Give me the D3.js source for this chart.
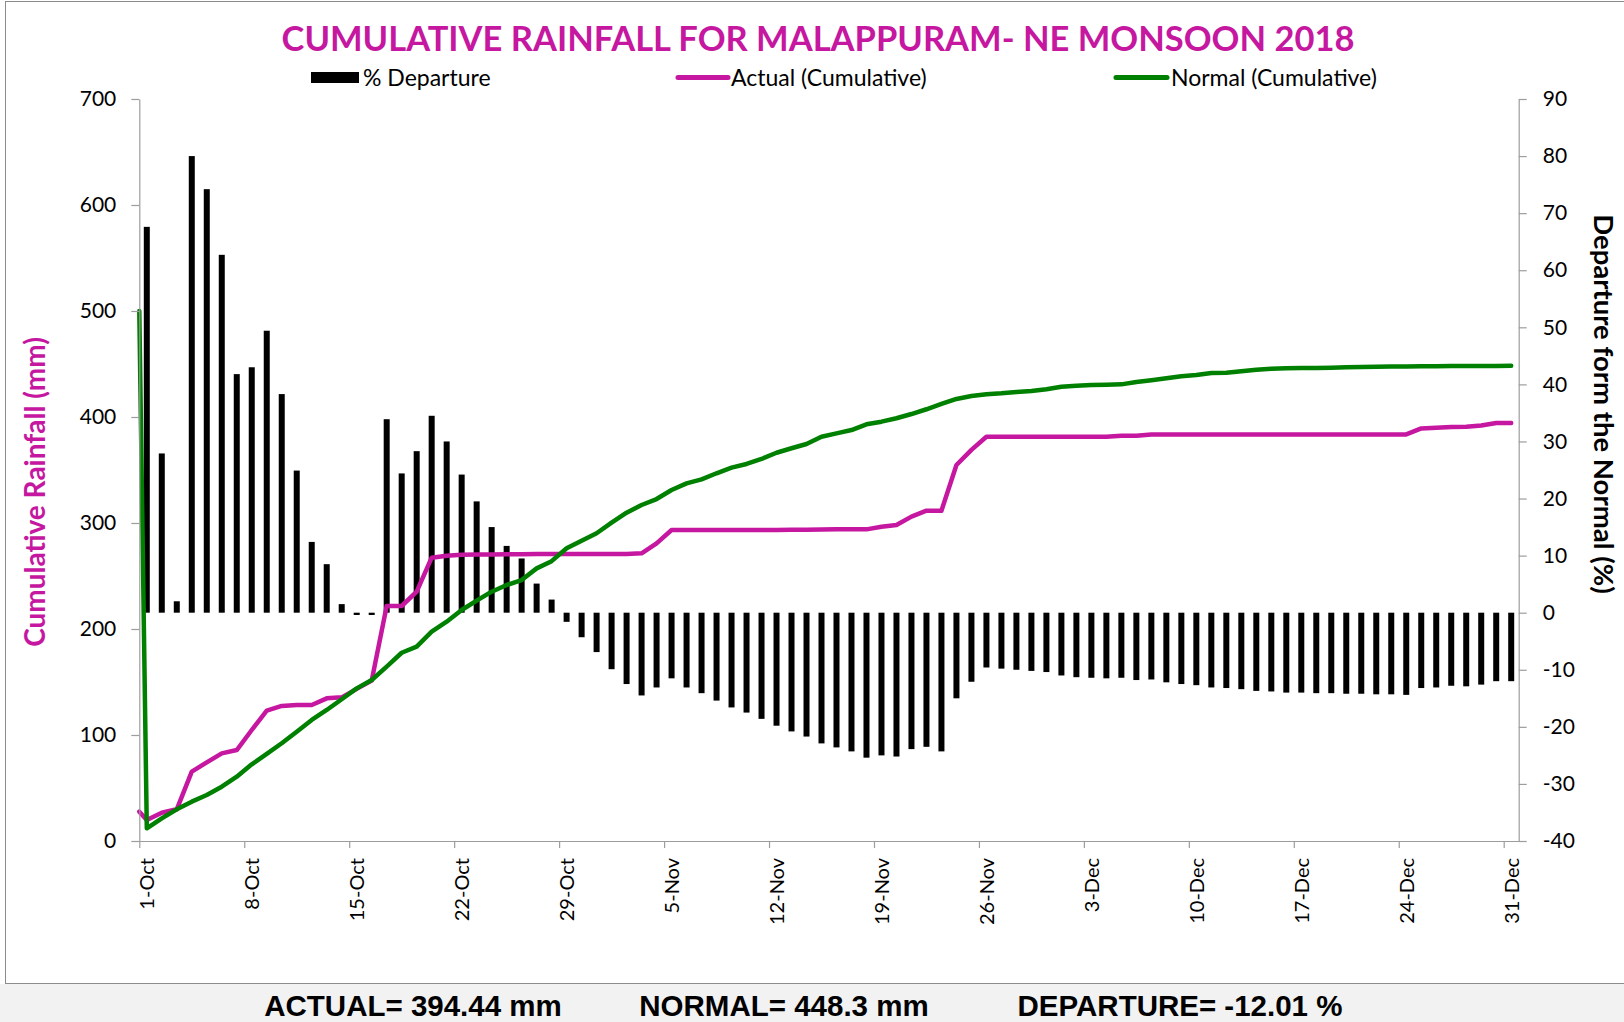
<!DOCTYPE html>
<meta charset="utf-8">
<script src="https://d3js.org/d3.v7.min.js"></script>
<style>
  body { margin: 0; background: #fff; }
  text { font-family: Lato, "Open Sans", sans-serif; }
</style>
<div id="chart"></div>
<script>

// one value per day, 1-Oct ... 31-Dec 2018 (92 days)
var departure = [67.6, 27.9, 2.0, 80.0, 74.2, 62.7, 41.8, 43.0, 49.4, 38.3,
  24.9, 12.4, 8.5, 1.5, -0.4, -0.4, 33.9, 24.4, 28.3, 34.5,
  30.0, 24.2, 19.5, 15.0, 11.7, 9.5, 5.1, 2.3, -1.6, -4.3,
  -6.9, -9.9, -12.5, -14.5, -13.1, -11.5, -13.1, -14.1, -15.4, -16.6,
  -17.5, -18.6, -19.8, -20.8, -21.7, -22.9, -23.6, -24.3, -25.4, -25.0,
  -25.2, -23.9, -23.5, -24.3, -15.0, -12.1, -9.6, -9.8, -10.0, -10.2,
  -10.4, -11.0, -11.3, -11.4, -11.5, -11.4, -11.8, -11.7, -12.2, -12.5,
  -12.7, -13.1, -13.2, -13.4, -13.7, -13.8, -14.0, -14.0, -14.1, -14.1,
  -14.2, -14.2, -14.3, -14.3, -14.4, -13.2, -13.1, -12.8, -12.9, -12.6,
  -12.0, -12.0]

var actual = [19.8, 26.7, 29.9, 65.4, 74.2, 82.7, 85.8, 104.7, 123.0, 127.4,
  128.3, 128.3, 134.6, 135.5, 143.5, 151.3, 221.7, 221.7, 235.2, 267.3,
  269.2, 270.0, 270.2, 270.4, 270.5, 270.6, 270.7, 270.7, 270.7, 270.7,
  270.7, 270.7, 270.8, 271.4, 280.8, 293.4, 293.4, 293.4, 293.4, 293.4,
  293.4, 293.4, 293.5, 293.6, 293.7, 293.8, 294.0, 294.0, 294.0, 296.5,
  298.1, 306.0, 311.6, 311.6, 354.7, 369.0, 381.4, 381.4, 381.4, 381.4,
  381.4, 381.4, 381.4, 381.4, 381.4, 382.4, 382.4, 383.6, 383.6, 383.6,
  383.6, 383.6, 383.6, 383.6, 383.6, 383.6, 383.6, 383.6, 383.6, 383.6,
  383.6, 383.6, 383.6, 383.6, 383.6, 389.2, 389.9, 390.5, 390.7, 392.0,
  394.4, 394.44]

var normal = [12.0, 21.4, 29.9, 37.1, 43.4, 51.2, 60.7, 72.3, 82.1, 92.2,
  103.1, 114.2, 123.6, 133.7, 144.0, 151.9, 164.5, 177.6, 183.3, 197.5,
  206.9, 217.9, 226.7, 235.2, 241.5, 246.2, 257.2, 264.0, 276.1, 283.3,
  290.3, 300.3, 309.7, 317.0, 322.6, 331.1, 337.4, 341.2, 346.9, 352.2,
  355.7, 360.4, 366.3, 370.5, 374.5, 381.4, 384.6, 387.7, 393.1, 395.6,
  398.8, 402.8, 407.3, 412.3, 417.0, 419.8, 421.4, 422.3, 423.6, 424.5,
  426.1, 428.6, 429.5, 430.2, 430.4, 430.8, 433.0, 434.6, 436.5, 438.4,
  439.6, 441.5, 441.8, 443.1, 444.6, 445.6, 445.9, 446.2, 446.3, 446.5,
  446.9, 447.2, 447.5, 447.6, 447.7, 447.8, 447.9, 448.0, 448.0, 448.1,
  448.2, 448.3]

// both lines begin with an extra point sitting on the 1-Oct tick
var actualStart = 27.7
var normalStart = 500

var leftTicks = [0, 100, 200, 300, 400, 500, 600, 700]
var rightTicks = [-40, -30, -20, -10, 0, 10, 20, 30, 40, 50, 60, 70, 80, 90]
var tickDays = [0, 7, 14, 21, 28, 35, 42, 49, 56, 63, 70, 77, 84, 91]   // days after 1-Oct

var legendNames = ["% Departure", "Actual (Cumulative)", "Normal (Cumulative)"]
var summary = ["ACTUAL= 394.44 mm", "NORMAL= 448.3 mm", "DEPARTURE= -12.01 %"]

var pink = "#C5179F", green = "#008000", axisGrey = "#9d9d9d"

var svg = d3.select("#chart").append("svg")
  .attr("width", 1624)
  .attr("height", 1022)

// chart frame and the grey strip under it
svg.append("rect").attr("x", 5.5).attr("y", 1.5).attr("width", 1640).attr("height", 982)
  .attr("fill", "#fff").attr("stroke", "#8c8c8c")
svg.append("rect").attr("x", 0).attr("y", 984).attr("width", 1624).attr("height", 38)
  .attr("fill", "#f2f2f2")

var start = new Date(Date.UTC(2018, 9, 1))
var x = d3.scaleUtc()
  .domain([start, new Date(Date.UTC(2019, 0, 1))])
  .range([139.3, 1518.7])
var yL = d3.scaleLinear().domain([0, 700]).range([841, 99])
var yR = d3.scaleLinear().domain([-40, 90]).range([841, 99])

// each day is drawn at the middle of its slot
var days = departure.map(function(d, i){ return d3.utcHour.offset(d3.utcDay.offset(start, i), 12) })

// % departure bars
svg.append("g").selectAll("rect")
  .data(departure)
  .enter()
  .append("rect")
    .attr("x", function(d, i){ return x(days[i]) - 3 })
    .attr("width", 6)
    .attr("y", function(d){ return Math.min(yR(d), yR(0)) })
    .attr("height", function(d){ return Math.abs(yR(d) - yR(0)) })
    .attr("fill", "#000")

function series(first, values) {
  return [[start, first]].concat(values.map(function(v, i){ return [days[i], v] }))
}
var line = d3.line()
  .x(function(d){ return x(d[0]) })
  .y(function(d){ return yL(d[1]) })

svg.append("path").datum(series(actualStart, actual))
  .attr("d", line).attr("fill", "none").attr("stroke", pink)
  .attr("stroke-width", 4.5).attr("stroke-linejoin", "round").attr("stroke-linecap", "round")
svg.append("path").datum(series(normalStart, normal))
  .attr("d", line).attr("fill", "none").attr("stroke", green)
  .attr("stroke-width", 4.5).attr("stroke-linejoin", "round").attr("stroke-linecap", "round")

// axes
var plain = function(d){ return String(d) }

var xAxis = svg.append("g")
  .attr("transform", "translate(0,841)")
  .call(d3.axisBottom(x)
    .tickValues(tickDays.map(function(d){ return d3.utcDay.offset(start, d) }))
    .tickSize(7).tickSizeOuter(0)
    .tickFormat(d3.utcFormat("%-d-%b")))
xAxis.selectAll("text")
  .attr("x", 0).attr("y", 0).attr("dy", "0.35em")
  .attr("text-anchor", "end")
  .attr("transform", "translate(7.5,17) rotate(-90)")

var leftAxis = svg.append("g")
  .attr("transform", "translate(139.3,0)")
  .call(d3.axisLeft(yL).tickValues(leftTicks).tickFormat(plain)
    .tickSize(8).tickSizeOuter(0).tickPadding(15))

var rightAxis = svg.append("g")
  .attr("transform", "translate(1518.7,0)")
  .call(d3.axisRight(yR).tickValues(rightTicks).tickFormat(plain)
    .tickSize(8).tickSizeOuter(0).tickPadding(16))

svg.selectAll(".domain, .tick line").attr("stroke", axisGrey).attr("stroke-width", 1.2)
svg.selectAll(".tick text")
  .attr("fill", "#000")
  .style("font-family", "Lato, sans-serif")
  .style("font-size", "21px")
xAxis.selectAll("text").style("font-size", "20px")

// titles
svg.append("text")
  .attr("x", 818).attr("y", 51)
  .attr("text-anchor", "middle")
  .attr("fill", pink)
  .style("font-weight", "bold").style("font-size", "34.5px")
  .text("CUMULATIVE RAINFALL FOR MALAPPURAM- NE MONSOON 2018")

svg.append("text")
  .attr("transform", "translate(35,492) rotate(-90)")
  .attr("text-anchor", "middle").attr("dy", "0.35em")
  .attr("fill", pink)
  .style("font-weight", "bold").style("font-size", "28px")
  .text("Cumulative Rainfall (mm)")

svg.append("text")
  .attr("transform", "translate(1604,404) rotate(90)")
  .attr("text-anchor", "middle").attr("dy", "0.35em")
  .attr("fill", "#000")
  .style("font-weight", "bold").style("font-size", "27.5px")
  .text("Departure form the Normal (%)")

// legend
var legend = svg.append("g")
legend.append("rect").attr("x", 311).attr("y", 72).attr("width", 48).attr("height", 11).attr("fill", "#000")
legend.append("line").attr("x1", 678).attr("x2", 728).attr("y1", 77.5).attr("y2", 77.5)
  .attr("stroke", pink).attr("stroke-width", 5).attr("stroke-linecap", "round")
legend.append("line").attr("x1", 1116).attr("x2", 1167).attr("y1", 77.5).attr("y2", 77.5)
  .attr("stroke", green).attr("stroke-width", 5).attr("stroke-linecap", "round")
legend.selectAll("text")
  .data(legendNames)
  .enter()
  .append("text")
    .attr("x", function(d, i){ return [363, 731, 1171][i] })
    .attr("y", 78).attr("dy", "0.35em")
    .style("font-size", "23px")
    .text(function(d){ return d })

// totals line under the chart
svg.append("g").selectAll("text")
  .data(summary)
  .enter()
  .append("text")
    .attr("x", function(d, i){ return [413, 784, 1180][i] })
    .attr("y", 1016)
    .attr("text-anchor", "middle")
    .style("font-family", "'Liberation Sans', Arial, sans-serif")
    .style("font-weight", "bold").style("font-size", "29.5px")
    .text(function(d){ return d })

</script>
